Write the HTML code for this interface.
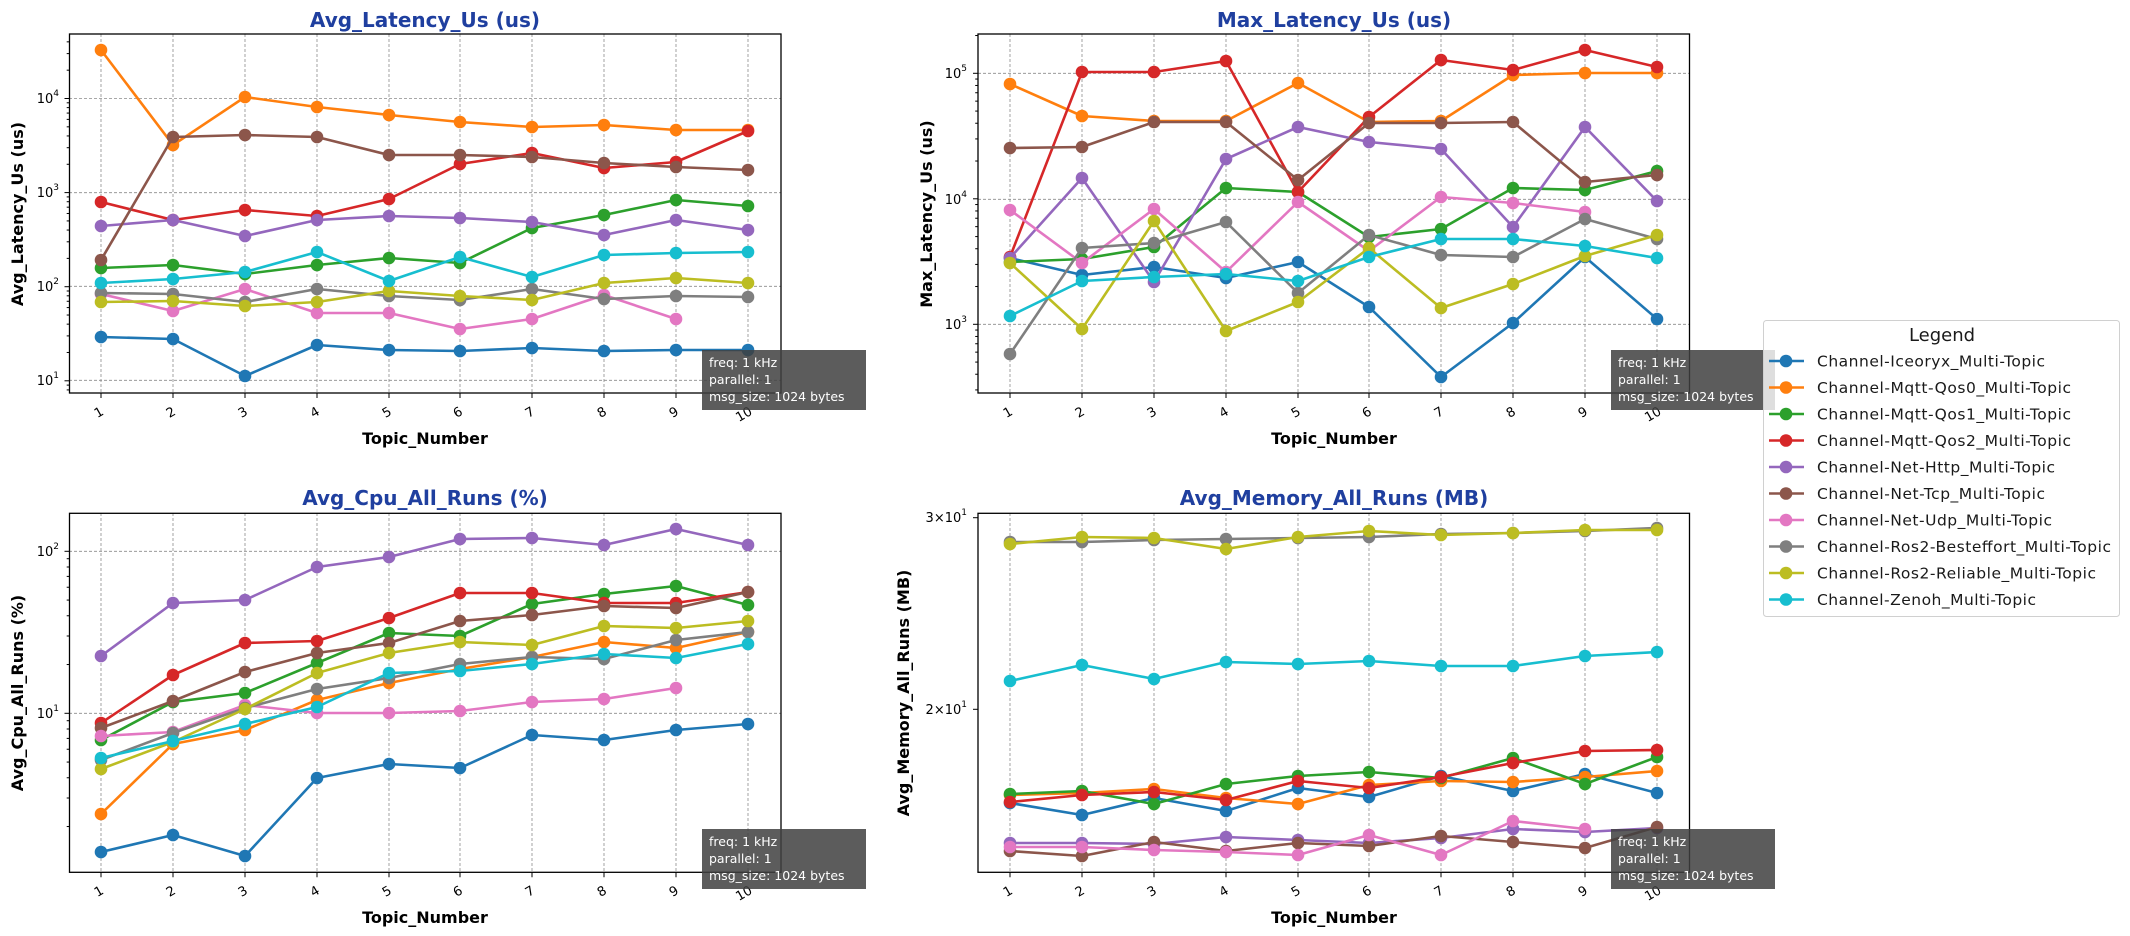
<!DOCTYPE html>
<html><head><meta charset="utf-8"><style>
html,body{margin:0;padding:0;background:#fff;}
svg{display:block;font-family:"DejaVu Sans","Liberation Sans",sans-serif;}
.t{fill:#1f3f9f;font-weight:bold;font-size:20px;text-anchor:middle;}
.al{font-weight:bold;font-size:16px;text-anchor:middle;fill:#000;}
.tk{font-size:13px;fill:#000;}
.bx{font-size:12.5px;fill:#fff;}
.lg{font-size:15.5px;fill:#1a1a1a;}
.grid line{stroke:#8c8c8c;stroke-width:0.8;stroke-dasharray:3,2;}
polyline{fill:none;stroke-width:2.6;stroke-linejoin:round;}
</style></head><body>
<svg id="s" width="2130" height="936" viewBox="0 0 2130 936" xmlns="http://www.w3.org/2000/svg">
<defs>
<marker id="m0" markerUnits="userSpaceOnUse" markerWidth="16" markerHeight="16" refX="8" refY="8"><circle cx="8" cy="8" r="6.3" fill="#1f77b4"/></marker>
<marker id="m1" markerUnits="userSpaceOnUse" markerWidth="16" markerHeight="16" refX="8" refY="8"><circle cx="8" cy="8" r="6.3" fill="#ff7f0e"/></marker>
<marker id="m2" markerUnits="userSpaceOnUse" markerWidth="16" markerHeight="16" refX="8" refY="8"><circle cx="8" cy="8" r="6.3" fill="#2ca02c"/></marker>
<marker id="m3" markerUnits="userSpaceOnUse" markerWidth="16" markerHeight="16" refX="8" refY="8"><circle cx="8" cy="8" r="6.3" fill="#d62728"/></marker>
<marker id="m4" markerUnits="userSpaceOnUse" markerWidth="16" markerHeight="16" refX="8" refY="8"><circle cx="8" cy="8" r="6.3" fill="#9467bd"/></marker>
<marker id="m5" markerUnits="userSpaceOnUse" markerWidth="16" markerHeight="16" refX="8" refY="8"><circle cx="8" cy="8" r="6.3" fill="#8c564b"/></marker>
<marker id="m6" markerUnits="userSpaceOnUse" markerWidth="16" markerHeight="16" refX="8" refY="8"><circle cx="8" cy="8" r="6.3" fill="#e377c2"/></marker>
<marker id="m7" markerUnits="userSpaceOnUse" markerWidth="16" markerHeight="16" refX="8" refY="8"><circle cx="8" cy="8" r="6.3" fill="#7f7f7f"/></marker>
<marker id="m8" markerUnits="userSpaceOnUse" markerWidth="16" markerHeight="16" refX="8" refY="8"><circle cx="8" cy="8" r="6.3" fill="#bcbd22"/></marker>
<marker id="m9" markerUnits="userSpaceOnUse" markerWidth="16" markerHeight="16" refX="8" refY="8"><circle cx="8" cy="8" r="6.3" fill="#17becf"/></marker>
</defs>
<style>
.s0{stroke:#1f77b4;marker-start:url(#m0);marker-mid:url(#m0);marker-end:url(#m0);}
.s1{stroke:#ff7f0e;marker-start:url(#m1);marker-mid:url(#m1);marker-end:url(#m1);}
.s2{stroke:#2ca02c;marker-start:url(#m2);marker-mid:url(#m2);marker-end:url(#m2);}
.s3{stroke:#d62728;marker-start:url(#m3);marker-mid:url(#m3);marker-end:url(#m3);}
.s4{stroke:#9467bd;marker-start:url(#m4);marker-mid:url(#m4);marker-end:url(#m4);}
.s5{stroke:#8c564b;marker-start:url(#m5);marker-mid:url(#m5);marker-end:url(#m5);}
.s6{stroke:#e377c2;marker-start:url(#m6);marker-mid:url(#m6);marker-end:url(#m6);}
.s7{stroke:#7f7f7f;marker-start:url(#m7);marker-mid:url(#m7);marker-end:url(#m7);}
.s8{stroke:#bcbd22;marker-start:url(#m8);marker-mid:url(#m8);marker-end:url(#m8);}
.s9{stroke:#17becf;marker-start:url(#m9);marker-mid:url(#m9);marker-end:url(#m9);}
</style>

<!-- ============ TOP LEFT ============ -->
<g class="grid">
<line x1="101" y1="34" x2="101" y2="393"/><line x1="173" y1="34" x2="173" y2="393"/><line x1="245" y1="34" x2="245" y2="393"/><line x1="317" y1="34" x2="317" y2="393"/><line x1="389" y1="34" x2="389" y2="393"/><line x1="460" y1="34" x2="460" y2="393"/><line x1="532" y1="34" x2="532" y2="393"/><line x1="604" y1="34" x2="604" y2="393"/><line x1="676" y1="34" x2="676" y2="393"/><line x1="748" y1="34" x2="748" y2="393"/>
<line x1="69" y1="98.5" x2="781" y2="98.5"/><line x1="69" y1="192.7" x2="781" y2="192.7"/><line x1="69" y1="286.3" x2="781" y2="286.3"/><line x1="69" y1="380.3" x2="781" y2="380.3"/>
</g>
<g>
<polyline class="s0" points="101,337 173,339 245,376 317,345 389,350 460,351 532,348 604,351 676,350 748,350"/>
<polyline class="s1" points="101,50 173,145 245,97 317,107 389,115 460,122 532,127 604,125 676,130 748,130"/>
<polyline class="s2" points="101,268 173,265 245,274 317,265 389,258 460,263 532,228 604,215 676,200 748,206"/>
<polyline class="s3" points="101,202 173,220 245,210 317,216 389,199 460,164 532,153 604,168 676,162 748,131"/>
<polyline class="s4" points="101,226 173,220 245,236 317,220 389,216 460,218 532,222 604,235 676,220 748,230"/>
<polyline class="s5" points="101,260 173,137 245,135 317,137 389,155 460,155 532,157 604,163 676,167 748,170"/>
<polyline class="s6" points="101,294 173,311 245,289 317,313 389,313 460,329 532,319 604,295 676,319"/>
<polyline class="s7" points="101,293 173,294 245,302 317,289 389,296 460,300 532,289 604,299 676,296 748,297"/>
<polyline class="s8" points="101,302 173,301 245,306 317,302 389,291 460,296 532,300 604,283 676,278 748,283"/>
<polyline class="s9" points="101,283 173,279 245,272 317,252 389,281 460,257 532,277 604,255 676,253 748,252"/>
</g>
<rect x="69.5" y="34" width="711.5" height="359" fill="none" stroke="#000" stroke-width="1.3"/>
<text class="t" x="425" y="27">Avg_Latency_Us  (us)</text>
<text class="al" transform="translate(23,214) rotate(-90)">Avg_Latency_Us (us)</text>
<text class="al" x="425" y="444">Topic_Number</text>
<g class="tk" text-anchor="end">
<text x="59" y="103">10<tspan dy="-7" font-size="9">4</tspan></text>
<text x="59" y="197">10<tspan dy="-7" font-size="9">3</tspan></text>
<text x="59" y="291">10<tspan dy="-7" font-size="9">2</tspan></text>
<text x="59" y="385">10<tspan dy="-7" font-size="9">1</tspan></text>
</g>

<!-- ============ TOP RIGHT ============ -->
<g class="grid">
<line x1="1010" y1="34" x2="1010" y2="393"/><line x1="1082" y1="34" x2="1082" y2="393"/><line x1="1154" y1="34" x2="1154" y2="393"/><line x1="1226" y1="34" x2="1226" y2="393"/><line x1="1298" y1="34" x2="1298" y2="393"/><line x1="1369" y1="34" x2="1369" y2="393"/><line x1="1441" y1="34" x2="1441" y2="393"/><line x1="1513" y1="34" x2="1513" y2="393"/><line x1="1585" y1="34" x2="1585" y2="393"/><line x1="1657" y1="34" x2="1657" y2="393"/>
<line x1="978" y1="73.3" x2="1690" y2="73.3"/><line x1="978" y1="199.3" x2="1690" y2="199.3"/><line x1="978" y1="324.3" x2="1690" y2="324.3"/>
</g>
<g>
<polyline class="s0" points="1010,258 1082,275 1154,267 1226,278 1298,262 1369,307 1441,377 1513,323 1585,257 1657,319"/>
<polyline class="s1" points="1010,84 1082,116 1154,121 1226,121 1298,83 1369,122 1441,121 1513,75 1585,73 1657,73"/>
<polyline class="s2" points="1010,262 1082,259 1154,247 1226,188 1298,192 1369,237 1441,229 1513,188 1585,190 1657,171"/>
<polyline class="s3" points="1010,257 1082,72 1154,72 1226,61 1298,192 1369,117 1441,60 1513,70 1585,50 1657,67"/>
<polyline class="s4" points="1010,258 1082,178 1154,282 1226,159 1298,127 1369,142 1441,149 1513,227 1585,127 1657,201"/>
<polyline class="s5" points="1010,148 1082,147 1154,122 1226,122 1298,180 1369,123 1441,123 1513,122 1585,182 1657,175"/>
<polyline class="s6" points="1010,210 1082,263 1154,209 1226,272 1298,202 1369,251 1441,197 1513,203 1585,212"/>
<polyline class="s7" points="1010,354 1082,248 1154,243 1226,222 1298,293 1369,235 1441,255 1513,257 1585,219 1657,239"/>
<polyline class="s8" points="1010,263 1082,329 1154,221 1226,331 1298,302 1369,248 1441,308 1513,284 1585,256 1657,235"/>
<polyline class="s9" points="1010,316 1082,281 1154,277 1226,274 1298,281 1369,257 1441,239 1513,239 1585,246 1657,258"/>
</g>
<rect x="978" y="34" width="711.5" height="359" fill="none" stroke="#000" stroke-width="1.3"/>
<text class="t" x="1334" y="27">Max_Latency_Us  (us)</text>
<text class="al" transform="translate(932,214) rotate(-90)">Max_Latency_Us (us)</text>
<text class="al" x="1334" y="444">Topic_Number</text>
<g class="tk" text-anchor="end">
<text x="967" y="78">10<tspan dy="-7" font-size="9">5</tspan></text>
<text x="967" y="204">10<tspan dy="-7" font-size="9">4</tspan></text>
<text x="967" y="329">10<tspan dy="-7" font-size="9">3</tspan></text>
</g>

<!-- ============ BOTTOM LEFT ============ -->
<g class="grid">
<line x1="101" y1="513" x2="101" y2="872"/><line x1="173" y1="513" x2="173" y2="872"/><line x1="245" y1="513" x2="245" y2="872"/><line x1="317" y1="513" x2="317" y2="872"/><line x1="389" y1="513" x2="389" y2="872"/><line x1="460" y1="513" x2="460" y2="872"/><line x1="532" y1="513" x2="532" y2="872"/><line x1="604" y1="513" x2="604" y2="872"/><line x1="676" y1="513" x2="676" y2="872"/><line x1="748" y1="513" x2="748" y2="872"/>
<line x1="69" y1="551.3" x2="781" y2="551.3"/><line x1="69" y1="713.3" x2="781" y2="713.3"/>
</g>
<g>
<polyline class="s0" points="101,852 173,835 245,856 317,778 389,764 460,768 532,735 604,740 676,730 748,724"/>
<polyline class="s1" points="101,814 173,744 245,730 317,700 389,683 460,669 532,657 604,642 676,648 748,632"/>
<polyline class="s2" points="101,740 173,702 245,693 317,663 389,633 460,636 532,604 604,594 676,586 748,605"/>
<polyline class="s3" points="101,723 173,675 245,643 317,641 389,618 460,593 532,593 604,603 676,603 748,592"/>
<polyline class="s4" points="101,656 173,603 245,600 317,567 389,557 460,539 532,538 604,545 676,529 748,545"/>
<polyline class="s5" points="101,728 173,701 245,672 317,653 389,643 460,621 532,615 604,606 676,608 748,592"/>
<polyline class="s6" points="101,736 173,732 245,705 317,713 389,713 460,711 532,702 604,699 676,688"/>
<polyline class="s7" points="101,760 173,733 245,708 317,689 389,678 460,664 532,657 604,659 676,640 748,632"/>
<polyline class="s8" points="101,769 173,742 245,709 317,673 389,653 460,642 532,645 604,626 676,628 748,621"/>
<polyline class="s9" points="101,758 173,741 245,724 317,707 389,673 460,671 532,664 604,654 676,658 748,644"/>
</g>
<rect x="69.5" y="513.3" width="711.5" height="359" fill="none" stroke="#000" stroke-width="1.3"/>
<text class="t" x="425" y="505">Avg_Cpu_All_Runs  (%)</text>
<text class="al" transform="translate(23,693) rotate(-90)">Avg_Cpu_All_Runs (%)</text>
<text class="al" x="425" y="923">Topic_Number</text>
<g class="tk" text-anchor="end">
<text x="59" y="556">10<tspan dy="-7" font-size="9">2</tspan></text>
<text x="59" y="718">10<tspan dy="-7" font-size="9">1</tspan></text>
</g>

<!-- ============ BOTTOM RIGHT ============ -->
<g class="grid">
<line x1="1010" y1="513" x2="1010" y2="872"/><line x1="1082" y1="513" x2="1082" y2="872"/><line x1="1154" y1="513" x2="1154" y2="872"/><line x1="1226" y1="513" x2="1226" y2="872"/><line x1="1298" y1="513" x2="1298" y2="872"/><line x1="1369" y1="513" x2="1369" y2="872"/><line x1="1441" y1="513" x2="1441" y2="872"/><line x1="1513" y1="513" x2="1513" y2="872"/><line x1="1585" y1="513" x2="1585" y2="872"/><line x1="1657" y1="513" x2="1657" y2="872"/>
</g>
<g>
<polyline class="s0" points="1010,803 1082,815 1154,798 1226,811 1298,788 1369,797 1441,776 1513,791 1585,774 1657,793"/>
<polyline class="s1" points="1010,795 1082,793 1154,789 1226,798 1298,804 1369,785 1441,781 1513,782 1585,777 1657,771"/>
<polyline class="s2" points="1010,794 1082,791 1154,804 1226,784 1298,776 1369,772 1441,778 1513,758 1585,784 1657,757"/>
<polyline class="s3" points="1010,802 1082,795 1154,792 1226,800 1298,781 1369,788 1441,777 1513,763 1585,751 1657,750"/>
<polyline class="s4" points="1010,843 1082,843 1154,844 1226,837 1298,840 1369,843 1441,838 1513,829 1585,832 1657,828"/>
<polyline class="s5" points="1010,851 1082,856 1154,842 1226,851 1298,843 1369,846 1441,836 1513,842 1585,848 1657,827"/>
<polyline class="s6" points="1010,847 1082,847 1154,850 1226,852 1298,855 1369,835 1441,855 1513,821 1585,829"/>
<polyline class="s7" points="1010,542 1082,542 1154,540 1226,539 1298,538 1369,537 1441,534 1513,533 1585,531 1657,528"/>
<polyline class="s8" points="1010,544 1082,537 1154,538 1226,549 1298,537 1369,531 1441,535 1513,533 1585,530 1657,530"/>
<polyline class="s9" points="1010,681 1082,665 1154,679 1226,662 1298,664 1369,661 1441,666 1513,666 1585,656 1657,652"/>
</g>
<rect x="978" y="513.3" width="711.5" height="359" fill="none" stroke="#000" stroke-width="1.3"/>
<text class="t" x="1334" y="505">Avg_Memory_All_Runs  (MB)</text>
<text class="al" transform="translate(909,693) rotate(-90)">Avg_Memory_All_Runs (MB)</text>
<text class="al" x="1334" y="923">Topic_Number</text>
<g class="tk" text-anchor="end">
<text x="967" y="522">3×10<tspan dy="-7" font-size="9">1</tspan></text>
<text x="967" y="714">2×10<tspan dy="-7" font-size="9">1</tspan></text>
</g>
<line x1="978" y1="517.7" x2="973" y2="517.7" stroke="#000"/>
<line x1="978" y1="709.3" x2="973" y2="709.3" stroke="#000"/>

<!-- x tick labels -->
<g class="tk" text-anchor="middle">
<text transform="translate(101,416) rotate(-30)">1</text><text transform="translate(173,416) rotate(-30)">2</text><text transform="translate(245,416) rotate(-30)">3</text><text transform="translate(317,416) rotate(-30)">4</text><text transform="translate(389,416) rotate(-30)">5</text><text transform="translate(460,416) rotate(-30)">6</text><text transform="translate(532,416) rotate(-30)">7</text><text transform="translate(604,416) rotate(-30)">8</text><text transform="translate(676,416) rotate(-30)">9</text><text transform="translate(746,418) rotate(-30)">10</text>
<text transform="translate(1010,416) rotate(-30)">1</text><text transform="translate(1082,416) rotate(-30)">2</text><text transform="translate(1154,416) rotate(-30)">3</text><text transform="translate(1226,416) rotate(-30)">4</text><text transform="translate(1298,416) rotate(-30)">5</text><text transform="translate(1369,416) rotate(-30)">6</text><text transform="translate(1441,416) rotate(-30)">7</text><text transform="translate(1513,416) rotate(-30)">8</text><text transform="translate(1585,416) rotate(-30)">9</text><text transform="translate(1655,418) rotate(-30)">10</text>
<text transform="translate(101,895) rotate(-30)">1</text><text transform="translate(173,895) rotate(-30)">2</text><text transform="translate(245,895) rotate(-30)">3</text><text transform="translate(317,895) rotate(-30)">4</text><text transform="translate(389,895) rotate(-30)">5</text><text transform="translate(460,895) rotate(-30)">6</text><text transform="translate(532,895) rotate(-30)">7</text><text transform="translate(604,895) rotate(-30)">8</text><text transform="translate(676,895) rotate(-30)">9</text><text transform="translate(746,897) rotate(-30)">10</text>
<text transform="translate(1010,895) rotate(-30)">1</text><text transform="translate(1082,895) rotate(-30)">2</text><text transform="translate(1154,895) rotate(-30)">3</text><text transform="translate(1226,895) rotate(-30)">4</text><text transform="translate(1298,895) rotate(-30)">5</text><text transform="translate(1369,895) rotate(-30)">6</text><text transform="translate(1441,895) rotate(-30)">7</text><text transform="translate(1513,895) rotate(-30)">8</text><text transform="translate(1585,895) rotate(-30)">9</text><text transform="translate(1655,897) rotate(-30)">10</text>
</g>
<g id="ticks" stroke="#000" stroke-width="1"></g>

<!-- info boxes -->
<g>
<rect x="702" y="350" width="164" height="60" fill="#404040" fill-opacity="0.85"/>
<text class="bx" x="709" y="367">freq: 1 kHz</text><text class="bx" x="709" y="384">parallel: 1</text><text class="bx" x="709" y="401">msg_size: 1024 bytes</text>
<rect x="1611" y="350" width="164" height="60" fill="#404040" fill-opacity="0.85"/>
<text class="bx" x="1618" y="367">freq: 1 kHz</text><text class="bx" x="1618" y="384">parallel: 1</text><text class="bx" x="1618" y="401">msg_size: 1024 bytes</text>
<rect x="702" y="829" width="164" height="60" fill="#404040" fill-opacity="0.85"/>
<text class="bx" x="709" y="846">freq: 1 kHz</text><text class="bx" x="709" y="863">parallel: 1</text><text class="bx" x="709" y="880">msg_size: 1024 bytes</text>
<rect x="1611" y="829" width="164" height="60" fill="#404040" fill-opacity="0.85"/>
<text class="bx" x="1618" y="846">freq: 1 kHz</text><text class="bx" x="1618" y="863">parallel: 1</text><text class="bx" x="1618" y="880">msg_size: 1024 bytes</text>
</g>

<!-- legend -->
<g>
<rect x="1763.5" y="320.5" width="356" height="296" rx="3" fill="#fff" fill-opacity="0.8" stroke="#d0d0d0"/>
<text x="1942" y="341" font-size="18" text-anchor="middle" fill="#1a1a1a">Legend</text>
<g stroke-width="2.6">
<line x1="1769" y1="361" x2="1804" y2="361" stroke="#1f77b4"/><circle cx="1786" cy="361" r="6.3" fill="#1f77b4"/>
<line x1="1769" y1="387.5" x2="1804" y2="387.5" stroke="#ff7f0e"/><circle cx="1786" cy="387.5" r="6.3" fill="#ff7f0e"/>
<line x1="1769" y1="414" x2="1804" y2="414" stroke="#2ca02c"/><circle cx="1786" cy="414" r="6.3" fill="#2ca02c"/>
<line x1="1769" y1="440.5" x2="1804" y2="440.5" stroke="#d62728"/><circle cx="1786" cy="440.5" r="6.3" fill="#d62728"/>
<line x1="1769" y1="467" x2="1804" y2="467" stroke="#9467bd"/><circle cx="1786" cy="467" r="6.3" fill="#9467bd"/>
<line x1="1769" y1="493.5" x2="1804" y2="493.5" stroke="#8c564b"/><circle cx="1786" cy="493.5" r="6.3" fill="#8c564b"/>
<line x1="1769" y1="520" x2="1804" y2="520" stroke="#e377c2"/><circle cx="1786" cy="520" r="6.3" fill="#e377c2"/>
<line x1="1769" y1="546.5" x2="1804" y2="546.5" stroke="#7f7f7f"/><circle cx="1786" cy="546.5" r="6.3" fill="#7f7f7f"/>
<line x1="1769" y1="573" x2="1804" y2="573" stroke="#bcbd22"/><circle cx="1786" cy="573" r="6.3" fill="#bcbd22"/>
<line x1="1769" y1="599.5" x2="1804" y2="599.5" stroke="#17becf"/><circle cx="1786" cy="599.5" r="6.3" fill="#17becf"/>
</g>
<text class="lg" x="1817" y="366.5" textLength="228">Channel-Iceoryx_Multi-Topic</text>
<text class="lg" x="1817" y="393" textLength="254">Channel-Mqtt-Qos0_Multi-Topic</text>
<text class="lg" x="1817" y="419.5" textLength="254">Channel-Mqtt-Qos1_Multi-Topic</text>
<text class="lg" x="1817" y="446" textLength="254">Channel-Mqtt-Qos2_Multi-Topic</text>
<text class="lg" x="1817" y="472.5" textLength="238">Channel-Net-Http_Multi-Topic</text>
<text class="lg" x="1817" y="499" textLength="228">Channel-Net-Tcp_Multi-Topic</text>
<text class="lg" x="1817" y="525.5" textLength="235">Channel-Net-Udp_Multi-Topic</text>
<text class="lg" x="1817" y="552" textLength="294">Channel-Ros2-Besteffort_Multi-Topic</text>
<text class="lg" x="1817" y="578.5" textLength="279">Channel-Ros2-Reliable_Multi-Topic</text>
<text class="lg" x="1817" y="605" textLength="219">Channel-Zenoh_Multi-Topic</text>
</g>
</svg>
<script>
(function(){
var g=document.getElementById('ticks'),ns='http://www.w3.org/2000/svg';
function L(x1,y1,x2,y2){var l=document.createElementNS(ns,'line');l.setAttribute('x1',x1);l.setAttribute('y1',y1);l.setAttribute('x2',x2);l.setAttribute('y2',y2);g.appendChild(l);}
var xs=[[101,173,245,317,389,460,532,604,676,748],[1010,1082,1154,1226,1298,1369,1441,1513,1585,1657]];
[[0,393],[1,393],[0,872.3],[1,872.3]].forEach(function(p){xs[p[0]].forEach(function(x){L(x,p[1],x,p[1]+5);});});
function logax(x0,y0,dec,top,bot){
  for(var e=-1;e<7;e++)for(var k=1;k<10;k++){var y=y0-(e+Math.log10(k))*dec;if(y<top||y>bot)continue;
   if(k==1)L(x0,y,x0-5,y);else L(x0,y,x0-2.8,y);}
}
logax(69.5,98.5+4*94.1,94.1,34,393);
logax(978,73.3+5*125.5,125.5,34,393);
logax(69.5,551.3+2*162,162,513.3,872.3);
})();
</script>
</body></html>
